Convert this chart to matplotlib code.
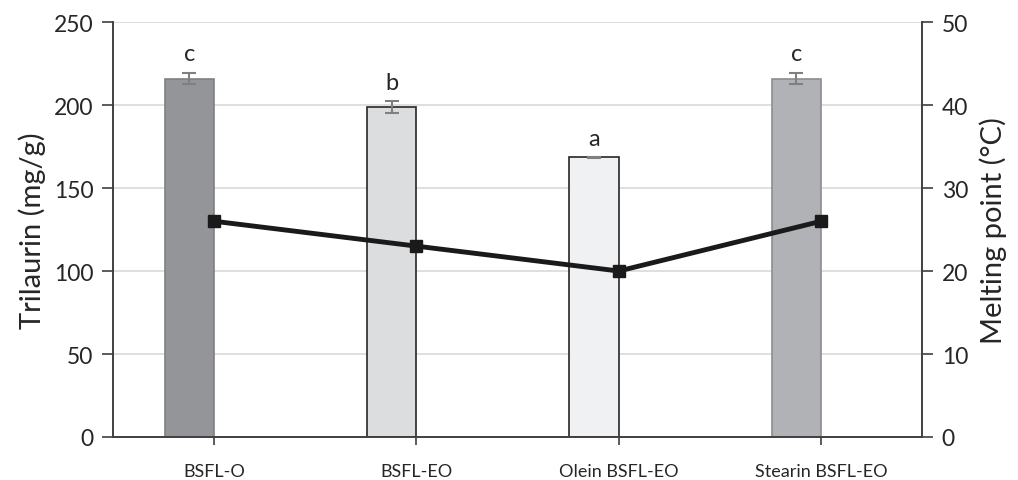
import numpy as np
import matplotlib.pyplot as plt

plt.rcParams['font.family'] = ['Lato', 'DejaVu Sans']

samples = ['BSFL-O', 'BSFL-EO', 'Olein BSFL-EO', 'Stearin BSFL-EO']
trilaurin = [216, 199, 168.5, 216]
trilaurin_err = [3.5, 3.5, 0.3, 3.5]
letters = ['c', 'b', 'a', 'c']
melting = [26, 23, 20, 26]

face = ['#939598', '#dcdddf', '#f0f1f3', '#b1b2b6']
edge = ['#7f8083', '#262626', '#262626', '#8c8d90']

fig = plt.figure(figsize=(10.18, 4.81), dpi=100)
ax = fig.add_axes([0.111, 0.0894, 0.795, 0.8626])
ax2 = ax.twinx()

x = np.arange(len(samples))
w = 0.245
ax.bar(x - w / 2, trilaurin, width=w, color=face, edgecolor=edge, linewidth=1.2, zorder=2)
ax.errorbar(x - w / 2, trilaurin, yerr=trilaurin_err, fmt='none', ecolor='#808080',
            elinewidth=1.5, capsize=5, capthick=1.5, zorder=3)
for xi, v, e, s in zip(x, trilaurin, trilaurin_err, letters):
    ax.annotate(s, (xi - w / 2, v + e), xytext=(0, 6), textcoords='offset points',
                ha='center', va='bottom', fontsize=17, color='#262626')

ax2.plot(x, melting, color='#1a1a1a', lw=3.5, marker='s', ms=9, zorder=4)

ax.set_xlim(-0.5, len(samples) - 0.5)
ax.set_ylim(0, 250)
ax.set_yticks(np.arange(0, 251, 50))
ax2.set_ylim(0, 50)
ax2.set_yticks(np.arange(0, 51, 10))
ax.yaxis.grid(True, color='#d9d9d9', lw=1.2, zorder=0)
ax.set_axisbelow(True)

ax.set_xticks(x)
ax.set_xticklabels(samples, fontsize=13)
ax.tick_params(axis='y', labelsize=16.5, length=8, width=1.2, color='#404040', pad=6,
               labelcolor='#262626')
ax2.tick_params(axis='y', labelsize=16.5, length=8, width=1.2, color='#404040', pad=6,
                labelcolor='#262626')
ax.tick_params(axis='x', length=6, width=1.2, color='#404040', pad=13, labelcolor='#262626')
for a in (ax, ax2):
    a.spines['top'].set_visible(False)
    for s in ('left', 'right', 'bottom'):
        a.spines[s].set_color('#404040')
        a.spines[s].set_linewidth(1.2)

ax.set_ylabel('Trilaurin (mg/g)', fontsize=21, labelpad=6, color='#262626')
ax2.set_ylabel('Melting point (°C)', fontsize=21, labelpad=8, color='#262626')

fig.savefig('out.png', dpi=100)
